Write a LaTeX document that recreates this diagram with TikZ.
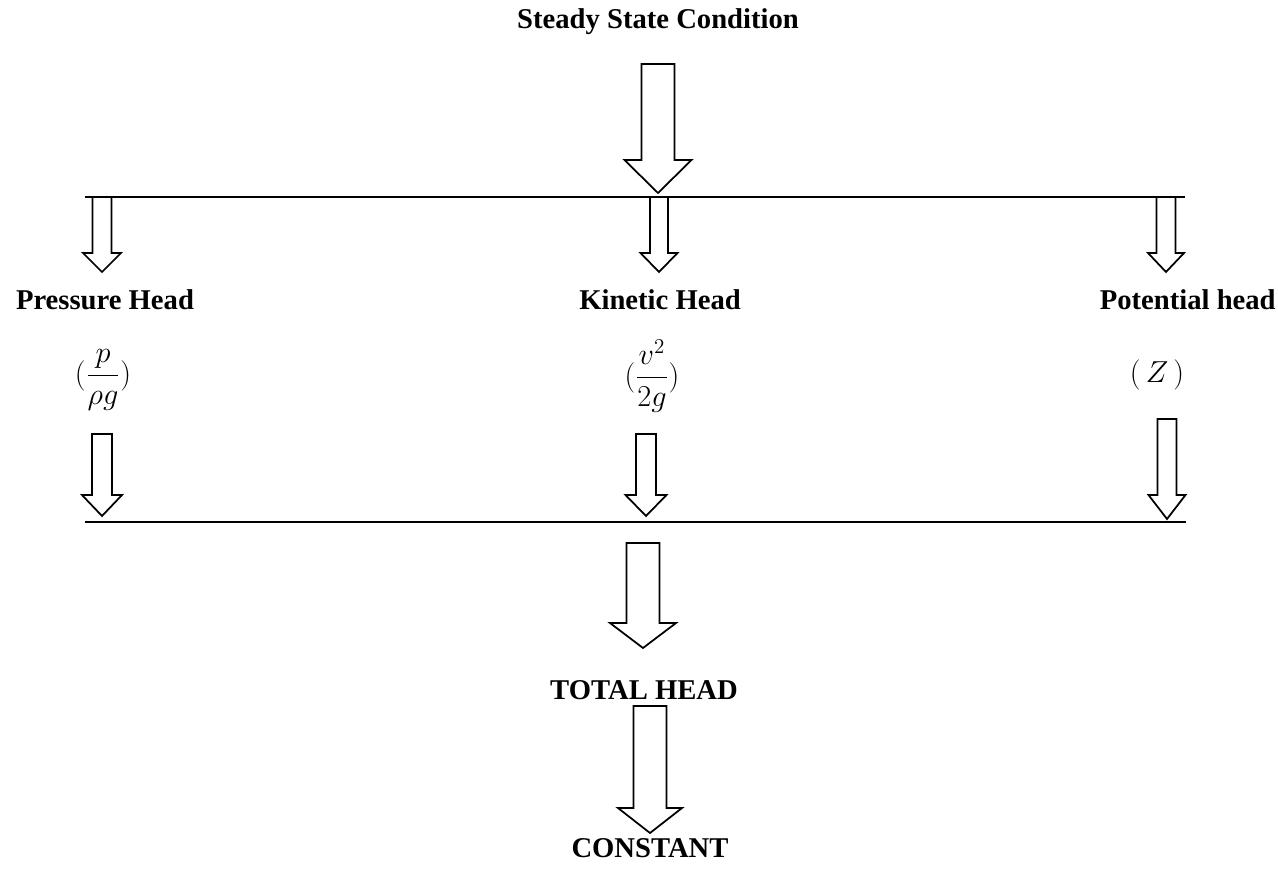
\documentclass[tikz,border=0pt]{standalone}
\usepackage{amsmath}
\usepackage{fontspec}
\setmainfont{Liberation Serif}
\tikzset{
  blkarrow/.style={draw, line width=1pt, fill=white, line join=miter},
  headline/.style={line width=1.1pt},
  lbl/.style={font=\fontsize{16.3}{19}\selectfont\bfseries, inner sep=0pt},
  frm/.style={font=\fontsize{17}{20}\selectfont, inner sep=0pt}
}
% block arrow: x, top, head start, tip, shaft half width, head half width
\newcommand{\blockarrow}[6]{%
  \draw[blkarrow] (#1-#5,#2) -- (#1+#5,#2) -- (#1+#5,#3) -- (#1+#6,#3)
    -- (#1,#4) -- (#1-#6,#3) -- (#1-#5,#3) -- cycle;}
\begin{document}
\begin{tikzpicture}[x=0.02cm, y=-0.02cm]
    \useasboundingbox (0,0) rectangle (1278,871);

    % Title and first arrow
    \node[lbl] (title) at (658,22) {Steady State Condition};
    \blockarrow{658}{64}{160}{193}{16.5}{33.5}

    % Upper bar
    \coordinate (U1) at (85,197);
    \coordinate (U2) at (1185,197);
    \draw[headline] (U1) -- (U2);
    \blockarrow{102}{197}{253}{272}{9.5}{19}
    \blockarrow{659}{197}{253}{272}{9}{18.5}
    \blockarrow{1166}{197}{253}{272}{9.5}{18}

    % Heads
    \node[lbl] (pressure) at (105,300) {Pressure Head};
    \node[lbl] (kinetic) at (660,300) {Kinetic Head};
    \node[lbl, anchor=east] (potential) at (1276,300) {Potential head};
    \node[frm] (pfrac) at (103,380) {$(\dfrac{p}{\rho g})$};
    \node[frm] (vfrac) at (652,376) {$(\dfrac{v^2}{2g})$};
    \node[frm] (zterm) at (1157,375) {$(\,Z\,)$};

    \blockarrow{102}{434}{495}{516}{10}{20}
    \blockarrow{646}{434}{495}{516}{10}{20.5}
    \blockarrow{1167}{419}{495}{519}{9.5}{18.5}

    % Lower bar
    \coordinate (L1) at (85,522);
    \coordinate (L2) at (1186,522);
    \draw[headline] (L1) -- (L2);
    \blockarrow{643}{543}{623}{648}{16.5}{33}

    % Result
    \node[lbl] (total) at (644,690) {TOTAL HEAD};
    \blockarrow{650}{706}{808}{833}{16.5}{32}
    \node[lbl] (constant) at (650,848) {CONSTANT};
\end{tikzpicture}
\end{document}
